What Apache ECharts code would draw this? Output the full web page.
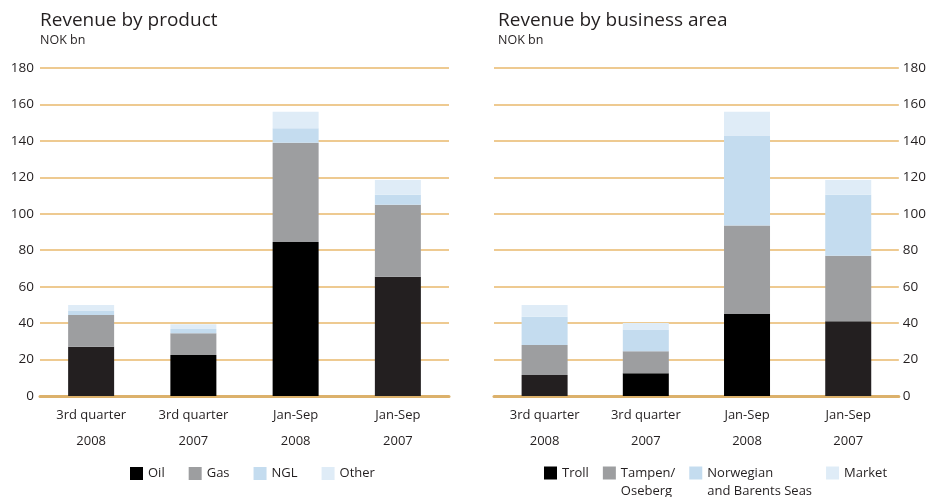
<!DOCTYPE html>
<html>
<head>
<meta charset="utf-8">
<script src="https://cdn.jsdelivr.net/npm/echarts@6/dist/echarts.min.js"></script>
<style>
  html, body { margin: 0; padding: 0; background: #fff; }
  #chart { width: 929px; height: 497px; }
</style>
</head>
<body>
<div id="chart"></div>
<script>
// categories
const periods = ['3rd quarter\n2008', '3rd quarter\n2007', 'Jan-Sep\n2008', 'Jan-Sep\n2007']
const yTicks = [0, 20, 40, 60, 80, 100, 120, 140, 160, 180]

// revenue by product, NOK bn
const oil = [27, 22.5, 84.5, 65.5]
const gas = [17.5, 12, 54.5, 39.5]
const ngl = [2.2, 2.3, 8, 5.5]
const other = [3.3, 2.6, 9, 8]

// revenue by business area, NOK bn
const troll = [11.5, 12.5, 45, 41]
const tampen = [16.5, 12, 48.5, 36]
const norwegian = [15.5, 12, 49.5, 33.5]
const market = [6.5, 3.5, 13, 8]

// the dark bars are not all the same black in the original
const darkShades = ['#231f20', '#000000', '#000000', '#231f20']

const font = '"Open Sans", sans-serif'
const textColor = '#231f20'
const gridColor = '#e8b96c'

function darkData (values) {
  return values.map((v, i) => ({ value: v, itemStyle: { color: darkShades[i] } }))
}

function barSeries (name, data, color, idx) {
  return {
    name: name,
    type: 'bar',
    stack: 'stack' + idx,
    xAxisIndex: idx,
    yAxisIndex: idx,
    barWidth: 46,
    itemStyle: { color: color },
    emphasis: { disabled: true },
    data: data
  }
}

function xAxisFor (idx) {
  return {
    type: 'category',
    gridIndex: idx,
    data: periods,
    axisTick: { show: false },
    axisLine: { lineStyle: { color: '#dcb16b', width: 3 } },
    axisLabel: {
      color: textColor, fontFamily: font, fontSize: 13, lineHeight: 26, margin: 6
    }
  }
}

function yAxisFor (idx, pos) {
  return {
    type: 'value',
    gridIndex: idx,
    position: pos,
    min: yTicks[0],
    max: yTicks[yTicks.length - 1],
    interval: yTicks[1] - yTicks[0],
    axisLine: { show: false },
    axisTick: { show: false },
    splitLine: { lineStyle: { color: gridColor, width: 1.5 } },
    axisLabel: {
      color: textColor, fontFamily: font, fontSize: 13.5, margin: pos === 'left' ? 6 : 4
    }
  }
}

const chart = echarts.init(document.getElementById('chart'))

chart.setOption({
  backgroundColor: '#fff',
  animation: false,
  title: [
    {
      text: 'Revenue by product', subtext: 'NOK bn', left: 35, top: 6, itemGap: 4,
      textStyle: { fontFamily: font, fontSize: 19, fontWeight: 'normal', color: textColor },
      subtextStyle: { fontFamily: font, fontSize: 12.5, color: textColor }
    },
    {
      text: 'Revenue by business area', subtext: 'NOK bn', left: 493, top: 6, itemGap: 4,
      textStyle: { fontFamily: font, fontSize: 19, fontWeight: 'normal', color: textColor },
      subtextStyle: { fontFamily: font, fontSize: 12.5, color: textColor }
    }
  ],
  legend: [
    {
      left: 125, top: 462, itemWidth: 13, itemHeight: 13, itemGap: 24,
      icon: 'rect', selectedMode: false,
      textStyle: { fontFamily: font, fontSize: 13, color: textColor },
      data: ['Oil', 'Gas', 'NGL', 'Other']
    },
    {
      left: 539, top: 441, itemWidth: 13, itemHeight: 13, itemGap: 14,
      icon: 'rect', selectedMode: false,
      textStyle: { fontFamily: font, fontSize: 13, color: textColor, lineHeight: 18 },
      // blank first line so the first text line sits level with the swatch
      formatter: name => name.indexOf('\n') >= 0 ? ' \n' + name : name,
      data: ['Troll', 'Tampen/\nOseberg', 'Norwegian\nand Barents Seas', 'Market']
    }
  ],
  grid: [
    { left: 40, right: 480, top: 68, bottom: 101 },
    { left: 494, right: 26, top: 68, bottom: 101 }
  ],
  xAxis: [xAxisFor(0), xAxisFor(1)],
  yAxis: [yAxisFor(0, 'left'), yAxisFor(1, 'right')],
  series: [
    barSeries('Oil', darkData(oil), '#000000', 0),
    barSeries('Gas', gas, '#9d9ea0', 0),
    barSeries('NGL', ngl, '#c4dcef', 0),
    barSeries('Other', other, '#dfecf7', 0),
    barSeries('Troll', darkData(troll), '#000000', 1),
    barSeries('Tampen/\nOseberg', tampen, '#9d9ea0', 1),
    barSeries('Norwegian\nand Barents Seas', norwegian, '#c4dcef', 1),
    barSeries('Market', market, '#dfecf7', 1)
  ]
})
</script>
</body>
</html>
